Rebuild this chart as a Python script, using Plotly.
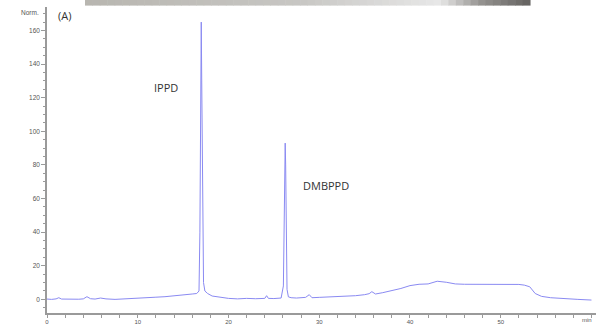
import plotly.graph_objects as go

# Chromatogram (time in min, normalised intensity)
time_min = [0, 0.5, 1.0, 1.3, 1.6, 2.5, 3.5, 4.0, 4.4, 4.8, 5.3, 5.9, 6.5, 7.5, 8.5,
            10, 11, 12, 13, 14, 15, 16, 16.5, 16.75, 16.85, 16.95, 17.0, 17.05, 17.15,
            17.25, 17.4, 17.7, 18.2, 19, 20, 21, 22, 23, 24, 24.2, 24.4, 25, 25.8,
            26.05, 26.15, 26.25, 26.3, 26.35, 26.45, 26.6, 26.9, 27.5, 28.5, 28.9,
            29.2, 30, 31, 32, 33, 34, 35, 35.5, 35.8, 36.2, 37, 38, 39, 40, 41, 42,
            43, 44, 45, 46, 48, 50, 51, 52, 52.6, 53.2, 53.8, 54.5, 55.5, 57, 58.5, 60]
intensity = [0.2, 0.0, 0.3, 1.0, 0.2, 0.0, 0.1, 0.3, 1.6, 0.4, 0.2, 0.8, 0.3, 0.0, 0.2,
             0.6, 1.0, 1.3, 1.6, 2.0, 2.4, 3.2, 3.5, 5.0, 40.0, 130.0, 165.0, 130.0, 40.0,
             10.0, 5.0, 3.5, 2.0, 1.2, 0.6, 0.3, 0.6, 0.4, 0.6, 2.2, 0.6, 0.5, 0.8,
             8.0, 60.0, 93.0, 80.0, 40.0, 6.0, 1.5, 1.0, 0.8, 1.2, 2.8,
             1.0, 1.2, 1.4, 1.6, 1.8, 2.2, 2.8, 3.4, 4.6, 3.2, 4.0, 5.2, 6.5, 8.2, 9.0, 9.2,
             10.8, 10.2, 9.2, 9.0, 9.0, 9.0, 9.0, 8.9, 8.5, 7.5, 3.5, 1.8, 1.0, 0.3, 0.0, -0.4]

x_tick_vals = [0, 10, 20, 30, 40, 50]
y_tick_vals = [0, 20, 40, 60, 80, 100, 120, 140, 160]

fig = go.Figure()
fig.add_trace(go.Scatter(x=time_min, y=intensity, mode="lines",
                         line=dict(color="#8a8af2", width=1), hoverinfo="skip"))

axis_col = "#9a9a9a"
tick_font = dict(family="Liberation Sans, Arial", size=6.5, color="#555555")

fig.update_xaxes(range=[0, 60.5], showline=True, linecolor=axis_col, linewidth=1.5,
                 ticks="outside", ticklen=3, tickcolor=axis_col, tickvals=x_tick_vals,
                 tickfont=dict(family="Liberation Sans, Arial", size=6, color="#555555"),
                 showgrid=False, zeroline=False, automargin=False,
                 ticklabelstandoff=-1,
                 minor=dict(dtick=2, ticks="outside", ticklen=3, tickcolor=axis_col))
fig.update_yaxes(range=[-8.1, 174], showline=True, linecolor=axis_col, linewidth=1.5,
                 ticks="outside", ticklen=4, tickcolor=axis_col, tickvals=y_tick_vals,
                 tickfont=tick_font, showgrid=False, zeroline=False, automargin=False,
                 minor=dict(dtick=5, ticks="outside", ticklen=2, tickcolor=axis_col))

# Gray banner at the top (decoration), drawn as gradient strips
L, R = 47, 596
T, B = 7, 313
def px2paper_x(px):
    return (px - L) / (R - L)
def px2paper_y(py):
    return (B - py) / (B - T)

shapes = []
stops = [(85, (184, 182, 176)), (300, (200, 199, 196)), (440, (232, 232, 232)),
         (480, (150, 148, 145)), (530, (100, 98, 96))]
n = 60
for i in range(n):
    x0 = 85 + (530 - 85) * i / n
    x1 = 85 + (530 - 85) * (i + 1) / n
    xm = (x0 + x1) / 2
    for j in range(len(stops) - 1):
        a, ca = stops[j]
        b, cb = stops[j + 1]
        if a <= xm <= b:
            f = (xm - a) / (b - a)
            c = tuple(int(ca[k] + (cb[k] - ca[k]) * f) for k in range(3))
            break
    shapes.append(dict(type="rect", xref="paper", yref="paper",
                       x0=px2paper_x(x0), x1=px2paper_x(x1) + 0.001,
                       y0=px2paper_y(5.6), y1=px2paper_y(0),
                       fillcolor="rgb(%d,%d,%d)" % c, line=dict(width=0), layer="above"))

txt = dict(family="Open Sans, Liberation Sans, Arial", size=11, color="#333333")
annotations = [
    dict(text="(A)", x=px2paper_x(56), y=px2paper_y(15), xref="paper", yref="paper",
         xanchor="left", yanchor="middle", showarrow=False, font=txt),
    dict(text="IPPD", x=px2paper_x(152), y=px2paper_y(88), xref="paper", yref="paper",
         xanchor="left", yanchor="middle", showarrow=False, font=txt),
    dict(text="DMBPPD", x=px2paper_x(301), y=px2paper_y(186), xref="paper", yref="paper",
         xanchor="left", yanchor="middle", showarrow=False, font=txt),
    dict(text="Norm.", x=px2paper_x(41), y=px2paper_y(12), xref="paper", yref="paper",
         xanchor="right", yanchor="middle", showarrow=False, font=tick_font),
    dict(text="min", x=px2paper_x(580), y=px2paper_y(320), xref="paper", yref="paper",
         xanchor="left", yanchor="middle", showarrow=False,
         font=dict(family="Liberation Sans, Arial", size=6, color="#555555")),
]

fig.update_layout(width=608, height=325, margin=dict(l=L, r=608 - R, t=T, b=325 - B),
                  plot_bgcolor="white", paper_bgcolor="white", showlegend=False,
                  shapes=shapes, annotations=annotations)
fig.write_html("out.html", config={"displayModeBar": False},
               post_script="document.body.style.margin='0px';document.body.style.overflow='hidden';")
